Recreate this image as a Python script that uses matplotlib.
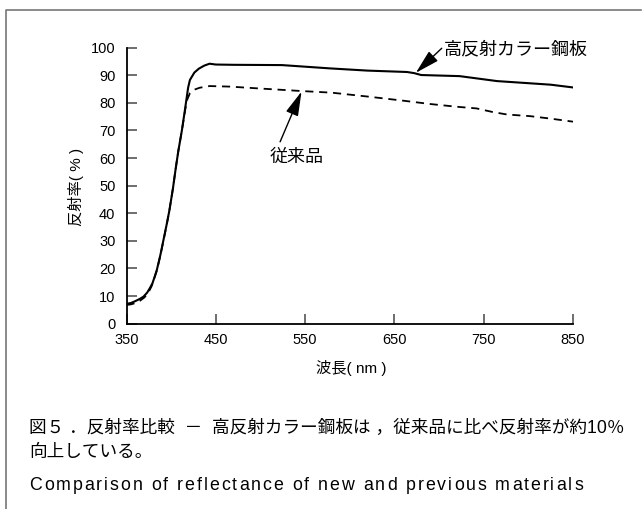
import matplotlib
matplotlib.use('Agg')
import matplotlib.pyplot as plt
from matplotlib.lines import Line2D
from matplotlib.font_manager import FontProperties, findfont
from matplotlib.ft2font import FT2Font

plt.rcParams['font.family'] = ['Liberation Sans', 'Noto Sans CJK JP', 'DejaVu Sans']

# reflectance spectra (wavelength nm, reflectance %)
wl_new = [350, 355, 360, 365, 369, 373, 376, 379, 381, 384, 388, 391, 395, 398, 402,
          405, 408, 412, 415, 417, 419, 421, 426, 431, 437, 443, 450, 470, 524, 578,
          620, 664, 672, 680, 723, 765, 802, 825, 850]
refl_new = [7.2, 7.5, 8.2, 9.0, 9.8, 11.2, 12.8, 14.6, 16.5, 19.5, 25.0, 29.7, 36.0,
            41.0, 49.0, 56.0, 62.5, 70.0, 76.5, 81.0, 85.5, 88.3, 91.0, 92.4, 93.5,
            94.2, 93.9, 93.8, 93.7, 92.5, 91.7, 91.2, 90.8, 90.1, 89.7, 87.9, 87.1,
            86.6, 85.6]

wl_old = [350, 355, 360, 365, 370, 374, 378, 381, 384, 388, 391, 395, 398, 402, 405,
          408, 412, 416, 418, 421, 426, 432, 443, 466, 500, 546, 580, 620, 660, 690,
          720, 742, 760, 776, 802, 825, 850]
refl_old = [6.8, 7.0, 7.5, 8.3, 9.5, 11.0, 13.5, 16.3, 19.3, 24.8, 29.5, 35.8, 41.0,
            49.0, 56.0, 62.5, 70.0, 78.0, 81.2, 83.5, 84.8, 85.5, 86.1, 85.9, 85.2,
            84.3, 83.7, 82.3, 80.8, 79.6, 78.6, 78.0, 76.7, 75.8, 75.2, 74.3, 73.2]

x_ticks = [350, 450, 550, 650, 750, 850]
y_ticks = list(range(0, 101, 10))

label_new = '高反射カラー鋼板'
label_old = '従来品'
caption_jp1 = '図５ ．反射率比較  －  高反射カラー鋼板は ，従来品に比べ反射率が約10％'
caption_jp2 = '向上している。'
caption_en = 'Comparison of reflectance of new and previous materials'

W, H = 643, 509
DPI = 100


def tracked_text(fig, x_px, y_px, s, size, width_px, family='Liberation Sans'):
    """Draw s letter by letter so that it spans width_px pixels."""
    font = FT2Font(findfont(FontProperties(family=family)))
    font.set_size(size, DPI)
    adv = []
    for c in s:
        g = font.load_char(ord(c))
        adv.append(g.linearHoriAdvance / 65536)
    natural = sum(adv[:-1])
    track = (width_px - natural - adv[-1] * 0.9) / (len(s) - 1)
    x = x_px
    for c, a in zip(s, adv):
        fig.text(x / W, 1 - y_px / H, c, ha='left', va='center', fontsize=size,
                 family=family)
        x += a + track


fig = plt.figure(figsize=(W / DPI, H / DPI), dpi=DPI)
ax = fig.add_axes([126.5 / W, 1 - 323.7 / H, 446.5 / W, 276 / H])

ax.plot(wl_new, refl_new, color='black', lw=1.5, solid_joinstyle='round')
ax.plot(wl_old, refl_old, color='black', lw=1.3, linestyle=(0, (4.5, 3.2)))

ax.set_xlim(350, 850)
ax.set_ylim(0, 100)
ax.set_xticks(x_ticks)
ax.set_yticks(y_ticks)
for s in ['top', 'right']:
    ax.spines[s].set_visible(False)
for s in ['left', 'bottom']:
    ax.spines[s].set_linewidth(1.3)
ax.tick_params(axis='both', direction='in', length=7, width=1.2, color='#555555',
               labelsize=10.5, pad=7)
ax.tick_params(axis='y', pad=8)

fig.text(76 / W, 1 - 187 / H, '反射率( % )', rotation=90, ha='center', va='center', fontsize=11)
fig.text(351 / W, 1 - 368 / H, '波長( nm )', ha='center', va='center', fontsize=11)

arrow = dict(arrowstyle='-|>,head_length=0.75,head_width=0.2', color='black', lw=1.0,
             mutation_scale=20, shrinkA=0, shrinkB=0)
ax.annotate('', xy=(674, 90.9), xytext=(703, 99.8), arrowprops=arrow, annotation_clip=False)
ax.text(705, 99.2, label_new, ha='left', va='center', fontsize=13, clip_on=False)
ax.annotate('', xy=(546, 84.1), xytext=(522, 65.9), arrowprops=arrow)
ax.text(541, 60.4, label_old, ha='center', va='center', fontsize=13)

fig.text(29 / W, 1 - 428 / H, caption_jp1, ha='left', va='center', fontsize=12.7)
fig.text(29 / W, 1 - 453 / H, caption_jp2, ha='left', va='center', fontsize=12.7)
tracked_text(fig, 29, 485, caption_en, 12.8, 553)

# outer frame (open at right and bottom)
fig.add_artist(Line2D([6 / W, 6 / W, 641 / W], [0, 1 - 10 / H, 1 - 10 / H],
                      transform=fig.transFigure, color='#777777', lw=1.2))

fig.savefig('out.png', dpi=DPI)
